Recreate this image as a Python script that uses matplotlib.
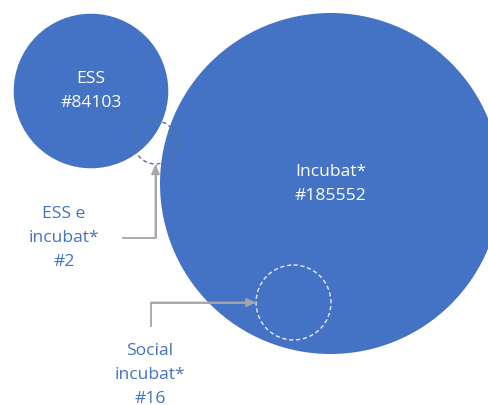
import matplotlib
matplotlib.use("Agg")
import matplotlib.pyplot as plt
from matplotlib.patches import Circle

# Data
set_names = ["ESS", "Incubat*"]
set_counts = [84103, 185552]
overlap_names = [["ESS e", "incubat*"], ["Social", "incubat*"]]
overlap_counts = [2, 16]

BLUE = "#4472C4"
GRAY = "#A6A6A6"
W, H = 489, 405
fig = plt.figure(figsize=(W / 100, H / 100), dpi=100)
ax = fig.add_axes([0, 0, 1, 1])
ax.set_xlim(0, W)
ax.set_ylim(H, 0)
ax.set_aspect("equal")
ax.axis("off")

FONT = "Open Sans"
FS = 12.6

# main circles: radius proportional to count
k = 170.5 / max(set_counts)
centers = [(91, 91), (330.5, 183.5)]
text_y = [(79, 103), (172, 196)]
for name, cnt, (cx, cy), (y1, y2) in zip(set_names, set_counts, centers, text_y):
    ax.add_patch(Circle((cx, cy), k * cnt, facecolor=BLUE, edgecolor="none", zorder=1))
    ax.text(cx, y1, name, color="white", ha="center", va="center", fontsize=FS, family=FONT, zorder=5)
    ax.text(cx, y2, "#" + str(cnt), color="white", ha="center", va="center", fontsize=FS, family=FONT, zorder=5)

# overlap markers
ax.add_patch(Circle((155.5, 142.5), 21.5, facecolor="none", edgecolor="#5D7396",
                    linestyle=(0, (3, 2)), lw=1.0, zorder=3))
ax.add_patch(Circle((293.5, 302.5), 37.5, facecolor="none", edgecolor="#E6ECF7",
                    linestyle=(0, (3, 2)), lw=1.0, zorder=3))

# connectors
def connector(pts):
    xs = [p[0] for p in pts]
    ys = [p[1] for p in pts]
    ax.plot(xs, ys, color=GRAY, lw=1.3, zorder=4, solid_capstyle="butt")
    ax.annotate("", xy=pts[-1], xytext=pts[-2],
                arrowprops=dict(arrowstyle="-|>,head_length=0.55,head_width=0.25",
                                color=GRAY, lw=1.3, shrinkA=0, shrinkB=0), zorder=4)

connector([(122, 237.5), (155.5, 237.5), (155.5, 164.5)])
connector([(151, 327), (151, 302.5), (256, 302.5)])

# overlap labels
label_pos = [(64, 214), (150, 351)]
for lines, cnt, (x, y0) in zip(overlap_names, overlap_counts, label_pos):
    for i, t in enumerate(lines + ["#" + str(cnt)]):
        ax.text(x, y0 + 24 * i, t, color=BLUE, ha="center", va="center",
                fontsize=FS, family=FONT, zorder=5)

fig.savefig("out.png", dpi=100, facecolor="white")
